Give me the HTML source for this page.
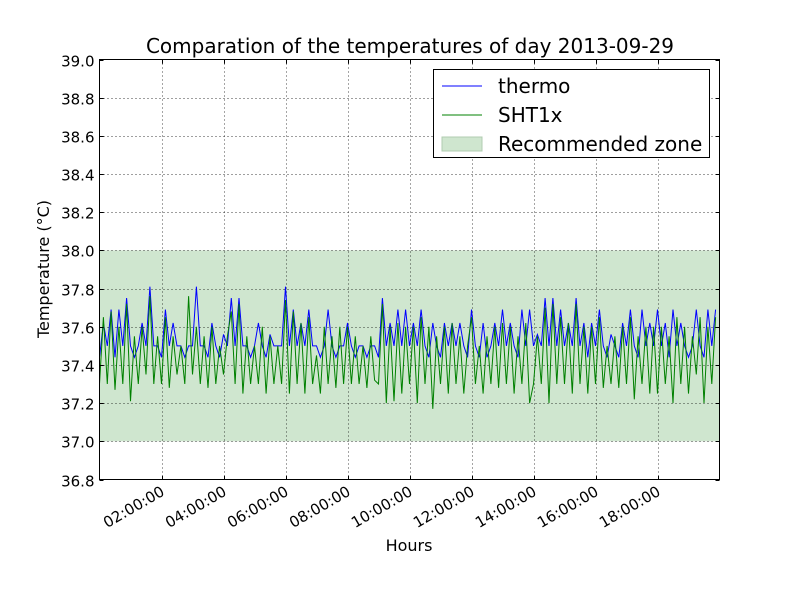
<!DOCTYPE html>
<html>
<head>
<meta charset="utf-8">
<style>
  html,body{margin:0;padding:0;background:#fff;}
  svg{display:block;font-family:"DejaVu Sans","Liberation Sans",sans-serif;}
</style>
</head>
<body>
<svg id="chart" width="800" height="600" viewBox="0 0 800 600" xmlns="http://www.w3.org/2000/svg">
  <rect width="800" height="600" fill="#fff"/>
  <g id="zone"></g>
  <g id="grid"></g>
  <g id="series"></g>
  <rect x="99.5" y="59.5" width="620" height="420" fill="none" stroke="#000" stroke-width="1"/>
  <g id="ticks"></g>
  <text x="410" y="53" font-size="20" text-anchor="middle">Comparation of the temperatures of day 2013-09-29</text>
  <text x="409" y="551" font-size="16" text-anchor="middle">Hours</text>
  <text x="0" y="0" font-size="16" text-anchor="middle" transform="translate(49,269) rotate(-90)">Temperature (°C)</text>
  <g>
    <rect x="433.5" y="69.5" width="276" height="88" fill="#fff" stroke="#000"/>
    <line x1="442" y1="86" x2="482" y2="86" stroke="#0000ff" stroke-width="1"/>
    <text x="498" y="93" font-size="20">thermo</text>
    <line x1="442" y1="115" x2="482" y2="115" stroke="#008000" stroke-width="1"/>
    <text x="498" y="122" font-size="20">SHT1x</text>
    <rect x="442" y="137" width="40" height="14" fill="#cfe6cf" stroke="#b0ccb0"/>
    <text x="498" y="151" font-size="20">Recommended zone</text>
  </g>
</svg>
<script>
const yTicks = [36.8,37.0,37.2,37.4,37.6,37.8,38.0,38.2,38.4,38.6,38.8,39.0];
const xTickHours = [2,4,6,8,10,12,14,16,18];
const xTickLabels = ["02:00:00","04:00:00","06:00:00","08:00:00","10:00:00","12:00:00","14:00:00","16:00:00","18:00:00"];
const zoneRange = [37.0, 38.0];
const stepHours = 0.125;
const thermo = [
37.44,37.62,37.5,37.69,37.44,37.69,37.5,37.75,
37.5,37.44,37.5,37.62,37.5,37.81,37.5,37.5,
37.44,37.69,37.5,37.62,37.5,37.5,37.44,37.5,
37.5,37.81,37.5,37.5,37.44,37.62,37.5,37.44,
37.56,37.5,37.75,37.5,37.75,37.5,37.5,37.44,
37.5,37.62,37.5,37.44,37.56,37.5,37.5,37.5,
37.81,37.5,37.69,37.5,37.62,37.5,37.69,37.5,
37.5,37.44,37.5,37.69,37.5,37.44,37.5,37.5,
37.62,37.5,37.44,37.5,37.5,37.44,37.5,37.5,
37.44,37.75,37.5,37.62,37.5,37.69,37.5,37.69,
37.5,37.62,37.5,37.69,37.5,37.44,37.62,37.5,
37.44,37.62,37.5,37.62,37.5,37.62,37.5,37.44,
37.69,37.5,37.44,37.62,37.44,37.5,37.62,37.5,
37.69,37.5,37.62,37.5,37.44,37.69,37.5,37.69,
37.5,37.56,37.5,37.75,37.5,37.75,37.5,37.69,
37.5,37.62,37.5,37.75,37.5,37.62,37.44,37.62,
37.5,37.69,37.5,37.44,37.56,37.5,37.44,37.62,
37.5,37.69,37.5,37.44,37.69,37.5,37.62,37.5,
37.69,37.5,37.62,37.44,37.69,37.5,37.62,37.5,
37.44,37.5,37.69,37.5,37.44,37.69,37.5,37.69];
const sht1x = [
37.3,37.65,37.3,37.68,37.27,37.6,37.3,37.72,
37.21,37.55,37.3,37.6,37.35,37.76,37.3,37.55,
37.3,37.65,37.28,37.55,37.35,37.5,37.3,37.76,
37.35,37.6,37.3,37.55,37.28,37.6,37.3,37.5,
37.35,37.55,37.68,37.3,37.72,37.25,37.55,37.3,
37.5,37.3,37.6,37.25,37.55,37.3,37.5,37.3,
37.74,37.25,37.68,37.3,37.62,37.25,37.65,37.3,
37.45,37.25,37.6,37.3,37.55,37.28,37.6,37.3,
37.6,37.3,37.55,37.3,37.5,37.28,37.55,37.32,
37.3,37.72,37.2,37.6,37.21,37.62,37.25,37.6,
37.3,37.6,37.2,37.65,37.3,37.6,37.17,37.55,
37.3,37.6,37.25,37.62,37.3,37.55,37.25,37.5,
37.65,37.3,37.5,37.25,37.55,37.3,37.6,37.28,
37.62,37.3,37.6,37.25,37.55,37.3,37.62,37.2,
37.3,37.55,37.3,37.7,37.2,37.72,37.3,37.65,
37.3,37.62,37.25,37.72,37.3,37.6,37.25,37.6,
37.3,37.65,37.28,37.5,37.3,37.55,37.28,37.6,
37.3,37.65,37.22,37.55,37.3,37.6,37.25,37.6,
37.25,37.6,37.3,37.55,37.2,37.65,37.3,37.6,
37.25,37.55,37.35,37.65,37.2,37.6,37.3,37.65];

const X0=99.5, X1=719.5, Y0=479.5, Y1=59.5;
const xMin=0, xMax=20, yMin=36.8, yMax=39.0;
function sx(h){return X0+(h-xMin)/(xMax-xMin)*(X1-X0);}
function sy(v){return Y0-(v-yMin)/(yMax-yMin)*(Y0-Y1);}
const NS="http://www.w3.org/2000/svg";
function mk(tag,attrs,parent){const e=document.createElementNS(NS,tag);for(const k in attrs)e.setAttribute(k,attrs[k]);parent.appendChild(e);return e;}

const zone=document.getElementById('zone');
const zr=mk('rect',{x:X0,y:sy(zoneRange[1]),width:X1-X0,height:sy(zoneRange[0])-sy(zoneRange[1]),fill:'#cfe6cf'},zone);



const grid=document.getElementById('grid');
const ticks=document.getElementById('ticks');
yTicks.forEach(v=>{
  const y=Math.round(sy(v))+0.5;
  if(v>yMin&&v<yMax){
    const g=mk('line',{x1:X0,x2:X1,y1:y,y2:y,stroke:'#000','stroke-dasharray':'1,3','stroke-width':0.7},grid);
    
    
  }
  mk('line',{x1:X0,x2:X0+4,y1:y,y2:y,stroke:'#000'},ticks);
  mk('line',{x1:X1-4,x2:X1,y1:y,y2:y,stroke:'#000'},ticks);
  const t=mk('text',{x:X0-5,y:y+6,'font-size':15,'text-anchor':'end'},ticks);
  t.textContent=v.toFixed(1);
  
  
});
xTickHours.forEach((h,i)=>{
  const x=Math.round(sx(h))+0.5;
  const g=mk('line',{x1:x,x2:x,y1:Y1,y2:Y0,stroke:'#000','stroke-dasharray':'1,3','stroke-width':0.7},grid);
  
  
  mk('line',{x1:x,x2:x,y1:Y0,y2:Y0-4,stroke:'#000'},ticks);
  mk('line',{x1:x,x2:x,y1:Y1,y2:Y1+4,stroke:'#000'},ticks);
  const t=mk('text',{x:0,y:0,'font-size':15,'text-anchor':'end',transform:`translate(${x+3},${Y0+15}) rotate(-30)`},ticks);
  t.textContent=xTickLabels[i];
  
  
});

const series=document.getElementById('series');
function drawLine(arr,color,name){
  const pts=arr.map((v,i)=>sx(i*stepHours).toFixed(1)+','+sy(v).toFixed(1)).join(' ');
  const p=mk('polyline',{points:pts,fill:'none',stroke:color,'stroke-width':1},series);
  
  
}
drawLine(thermo,'#0000ff','thermo-line');
drawLine(sht1x,'#008000','sht1x-line');
</script>
</body>
</html>
